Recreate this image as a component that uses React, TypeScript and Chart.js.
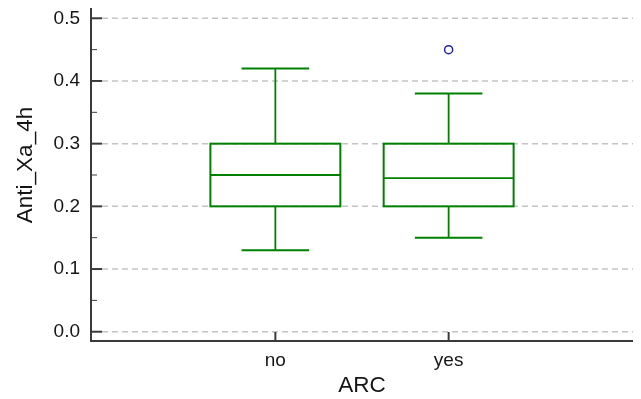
import React, { useEffect, useRef } from "react";
import { Chart, registerables } from "chart.js";

Chart.register(...registerables);

// ---- data ----
const categories = ["no", "yes"];
const q1 = [0.2, 0.2];
const median = [0.25, 0.245];
const q3 = [0.3, 0.3];
const whiskerLow = [0.13, 0.15];
const whiskerHigh = [0.42, 0.38];
const outlierCategory = [1];
const outlierValue = [0.45];
const yTicks = [0, 0.1, 0.2, 0.3, 0.4, 0.5];
const yMinorTicks = [0.05, 0.15, 0.25, 0.35, 0.45];
const yTitle = "Anti_Xa_4h";
const xTitle = "ARC";

const FONT = "'Liberation Sans', Arial, Helvetica, sans-serif";
const GREEN = "#008000";
const AXIS = "#3a3a3a";
const TEXT = "#151515";
const BOX_WIDTH = 0.75;
const CAP_WIDTH = 0.39;

const boxPlugin = {
  id: "boxplotDraw",
  beforeDatasetsDraw(chart: any) {
    const { ctx, chartArea, scales } = chart;
    const x = scales.x;
    const y = scales.y;
    ctx.save();
    // dashed grid lines
    ctx.strokeStyle = "#c4c4c4";
    ctx.lineWidth = 1.5;
    ctx.setLineDash([6, 4]);
    yTicks.forEach((v) => {
      const py = y.getPixelForValue(v);
      ctx.beginPath();
      ctx.moveTo(chartArea.left + 11, py);
      ctx.lineTo(chartArea.right, py);
      ctx.stroke();
    });
    ctx.setLineDash([]);
    // boxes
    ctx.strokeStyle = GREEN;
    categories.forEach((_, i) => {
      const cx = x.getPixelForValue(i);
      const bl = x.getPixelForValue(i - BOX_WIDTH / 2);
      const br = x.getPixelForValue(i + BOX_WIDTH / 2);
      const cl = x.getPixelForValue(i - CAP_WIDTH / 2);
      const cr = x.getPixelForValue(i + CAP_WIDTH / 2);
      const pq1 = y.getPixelForValue(q1[i]);
      const pq3 = y.getPixelForValue(q3[i]);
      const pm = y.getPixelForValue(median[i]);
      const plo = y.getPixelForValue(whiskerLow[i]);
      const phi = y.getPixelForValue(whiskerHigh[i]);
      // whisker stems
      ctx.lineWidth = 1.8;
      ctx.beginPath();
      ctx.moveTo(cx, pq3);
      ctx.lineTo(cx, phi);
      ctx.moveTo(cx, pq1);
      ctx.lineTo(cx, plo);
      ctx.stroke();
      // caps
      ctx.lineWidth = 2;
      ctx.beginPath();
      ctx.moveTo(cl, phi);
      ctx.lineTo(cr, phi);
      ctx.moveTo(cl, plo);
      ctx.lineTo(cr, plo);
      ctx.stroke();
      // box
      ctx.lineWidth = 2;
      ctx.strokeRect(bl, pq3, br - bl, pq1 - pq3);
      // median
      ctx.lineWidth = 1.8;
      ctx.beginPath();
      ctx.moveTo(bl, pm);
      ctx.lineTo(br, pm);
      ctx.stroke();
    });
    ctx.restore();
  },
  afterDraw(chart: any) {
    const { ctx, chartArea, scales } = chart;
    const x = scales.x;
    const y = scales.y;
    ctx.save();
    ctx.strokeStyle = AXIS;
    // axis lines
    ctx.lineWidth = 2;
    ctx.beginPath();
    ctx.moveTo(chartArea.left, chartArea.top);
    ctx.lineTo(chartArea.left, chartArea.bottom + 1);
    ctx.moveTo(chartArea.left - 1, chartArea.bottom);
    ctx.lineTo(chartArea.right, chartArea.bottom);
    ctx.stroke();
    // major y ticks
    yTicks.forEach((v) => {
      const py = y.getPixelForValue(v);
      ctx.beginPath();
      ctx.moveTo(chartArea.left, py);
      ctx.lineTo(chartArea.left + 11, py);
      ctx.stroke();
    });
    // x ticks
    categories.forEach((_, i) => {
      const px = x.getPixelForValue(i);
      ctx.beginPath();
      ctx.moveTo(px, chartArea.bottom);
      ctx.lineTo(px, chartArea.bottom - 9);
      ctx.stroke();
    });
    // minor y ticks
    ctx.lineWidth = 1;
    yMinorTicks.forEach((v) => {
      const py = y.getPixelForValue(v);
      ctx.beginPath();
      ctx.moveTo(chartArea.left, py);
      ctx.lineTo(chartArea.left + 6, py);
      ctx.stroke();
    });
    // y title
    ctx.fillStyle = TEXT;
    ctx.font = `22.5px ${FONT}`;
    ctx.textAlign = "center";
    ctx.textBaseline = "middle";
    ctx.translate(25.5, (chartArea.top + chartArea.bottom) / 2 - 9.5);
    ctx.rotate(-Math.PI / 2);
    ctx.fillText(yTitle, 0, 0);
    ctx.restore();
  },
};

export default function App() {
  const ref = useRef<HTMLCanvasElement | null>(null);
  useEffect(() => {
    document.body.style.margin = "0";
    const canvas = ref.current;
    if (!canvas) return;
    const chart = new Chart(canvas, {
      type: "scatter",
      data: {
        datasets: [
          {
            label: "outliers",
            data: outlierCategory.map((c, i) => ({ x: c, y: outlierValue[i] })),
            pointRadius: 4,
            pointHoverRadius: 4,
            borderWidth: 1.5,
            borderColor: "#22229e",
            backgroundColor: "rgba(0,0,0,0)",
            showLine: false,
          },
        ],
      },
      options: {
        responsive: false,
        animation: false,
        events: [],
        layout: { padding: { left: 0, top: 8, right: 8, bottom: 0 } },
        plugins: { legend: { display: false }, tooltip: { enabled: false }, title: { display: false } },
        scales: {
          x: {
            type: "linear",
            min: -1.064,
            max: 2.064,
            grid: { display: false },
            border: { display: false },
            afterBuildTicks: (s: any) => {
              s.ticks = categories.map((_, i) => ({ value: i }));
            },
            afterFit: (s: any) => {
              s.height = 58;
              s.paddingLeft = 0;
              s.paddingRight = 0;
            },
            ticks: {
              autoSkip: false,
              maxRotation: 0,
              padding: 0,
              color: TEXT,
              font: { family: FONT, size: 19 },
              callback: (v: any) => categories[Math.round(Number(v))] ?? "",
            },
            title: {
              display: true,
              text: xTitle,
              color: TEXT,
              font: { family: FONT, size: 22.5 },
              padding: { top: 0, bottom: 0 },
            },
          },
          y: {
            type: "linear",
            min: -0.0148,
            max: 0.5164,
            grid: { display: false },
            border: { display: false },
            afterBuildTicks: (s: any) => {
              s.ticks = yTicks.map((v) => ({ value: v }));
            },
            afterFit: (s: any) => {
              s.width = 91;
              s.paddingTop = 0;
              s.paddingBottom = 0;
            },
            ticks: {
              padding: 3,
              color: TEXT,
              font: { family: FONT, size: 19 },
              callback: (v: any) => Number(v).toFixed(1),
            },
          },
        },
      },
      plugins: [boxPlugin],
    });
    return () => chart.destroy();
  }, []);
  return <canvas ref={ref} width={641} height={399} style={{ display: "block" }} />;
}
